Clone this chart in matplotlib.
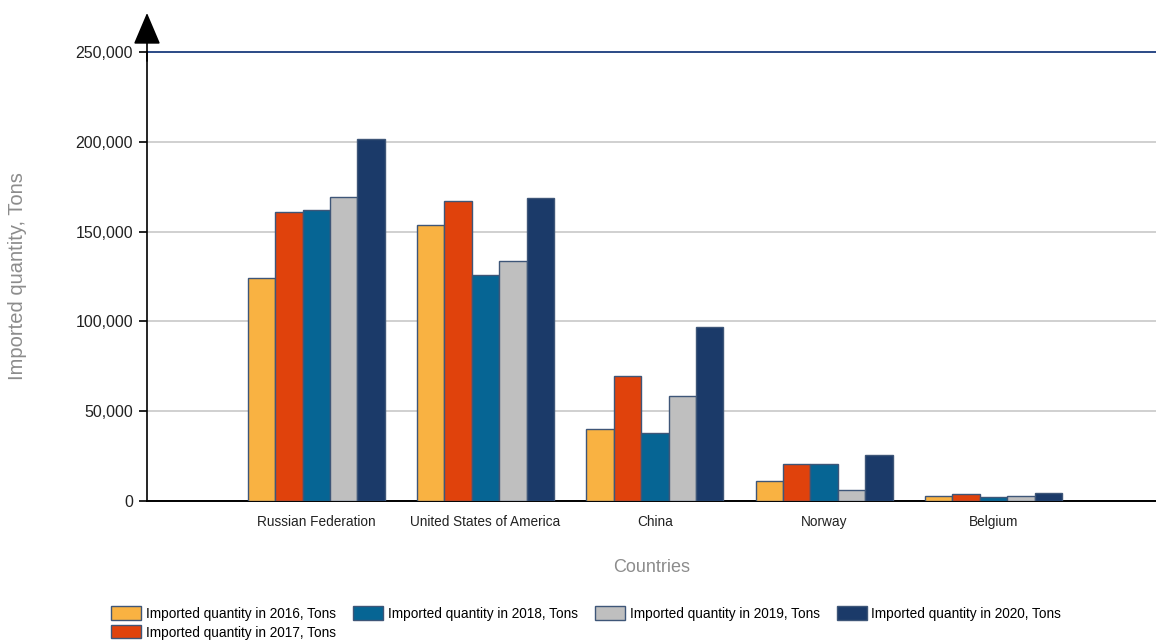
import matplotlib
matplotlib.use("Agg")
import matplotlib.pyplot as plt
import numpy as np
from matplotlib import font_manager
from matplotlib.ticker import FuncFormatter

countries = ["Russian Federation", "United States of America", "China", "Norway", "Belgium"]
years = ["2016", "2017", "2018", "2019", "2020"]

qty_2016 = [124000, 153700, 39900, 11400, 2800]
qty_2017 = [160900, 167200, 69600, 20800, 3700]
qty_2018 = [161800, 125800, 37700, 20800, 2000]
qty_2019 = [169300, 133500, 58500, 6000, 3000]
qty_2020 = [201600, 168900, 97000, 25600, 4700]

series = [qty_2016, qty_2017, qty_2018, qty_2019, qty_2020]
colors = ["#F9B242", "#E0420C", "#066594", "#BFBFBF", "#1B3A69"]
edge = "#3E5678"

available = {f.name for f in font_manager.fontManager.ttflist}
family = ["Liberation Sans Narrow", "Liberation Sans", "DejaVu Sans"]
family = [f for f in family if f in available] or ["DejaVu Sans"]
plt.rcParams["font.family"] = family

fig = plt.figure(figsize=(11.56, 6.4), dpi=100)
W, H = 1156, 640
ax = fig.add_axes([147 / W, 1 - 501 / H, (1156 - 147) / W, (501 - 52) / H])

x = np.arange(len(countries))
bw = 0.162
for i, (vals, c, yr) in enumerate(zip(series, colors, years)):
    ax.bar(x + (i - 2) * bw, vals, width=bw, color=c, edgecolor=edge, linewidth=1.0,
           label=f"Imported quantity in {yr}, Tons", zorder=3)

ax.set_xlim(-1, 4.96)
ax.set_ylim(0, 250000)
ax.set_yticks([0, 50000, 100000, 150000, 200000, 250000])
ax.yaxis.set_major_formatter(FuncFormatter(lambda v, p: f"{int(v):,}"))
ax.set_xticks(x)
ax.set_xticklabels(countries)

ax.grid(axis="y", color="#C8C8C8", linewidth=1.2, zorder=0)
ax.axhline(250000, color="#2B4A86", linewidth=1.4, zorder=2, clip_on=False)

for s in ["top", "right"]:
    ax.spines[s].set_visible(False)
ax.spines["left"].set_color("black")
ax.spines["bottom"].set_color("black")
ax.spines["left"].set_linewidth(1.2)
ax.spines["bottom"].set_linewidth(1.4)
ax.spines["left"].set_bounds(0, 250000)

# arrow head on top of the value axis
ax.annotate("", xy=(-1, 1.087), xycoords=("data", "axes fraction"),
            xytext=(-1, 0.98), textcoords=("data", "axes fraction"),
            arrowprops=dict(arrowstyle="-|>,head_length=2.0,head_width=0.85",
                            color="black", lw=1.2, shrinkA=0, shrinkB=0),
            annotation_clip=False)

ax.tick_params(axis="y", length=6, width=1.2, color="black", labelsize=11.5,
               labelcolor="#222222", pad=4)
ax.tick_params(axis="x", length=0, labelsize=9.8, labelcolor="#222222", pad=10)

ax.set_xlabel("Countries", fontsize=13, color="#8C8C8C")
ax.xaxis.set_label_coords(0.5, -(567 - 501) / 449, transform=ax.transAxes)
ax.xaxis.label.set_va("center")
ax.set_ylabel("Imported quantity, Tons", fontsize=14.5, color="#8C8C8C")
ax.yaxis.set_label_coords(-(147 - 18) / 1009, 0.5)
ax.yaxis.label.set_va("center")

leg = fig.legend(loc="lower left", bbox_to_anchor=(106 / W, -5 / H), ncol=4,
                 frameon=False, fontsize=9.8, handlelength=2.2, handleheight=1.1,
                 handletextpad=0.35, columnspacing=1.25, labelspacing=0.35,
                 borderaxespad=0)

fig.savefig("out.png", dpi=100)
